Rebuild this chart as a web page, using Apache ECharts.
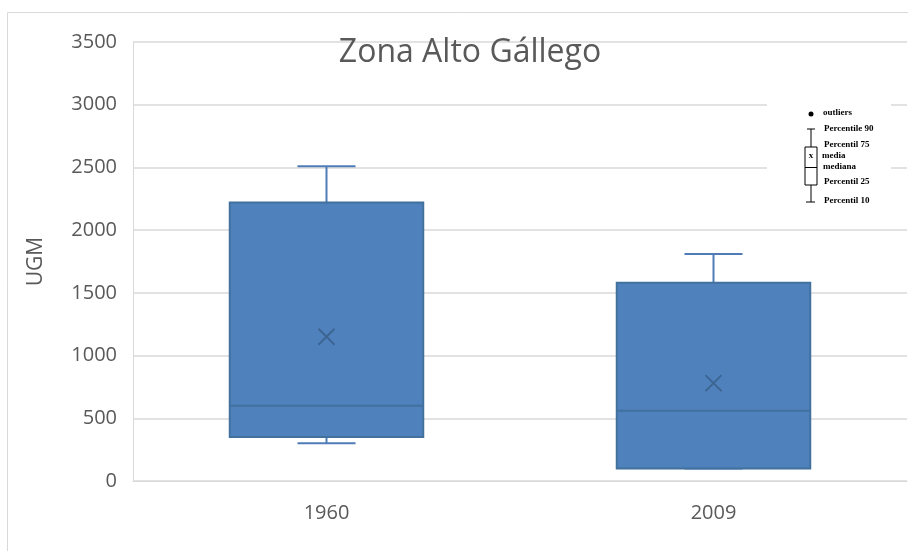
<!DOCTYPE html>
<html>
<head>
<meta charset="utf-8">
<script src="https://cdn.jsdelivr.net/npm/echarts@6/dist/echarts.min.js"></script>
<style>
  html, body { margin: 0; padding: 0; background: #fff; }
  #chart { width: 908px; height: 551px; }
</style>
</head>
<body>
<div id="chart"></div>
<script>
// datos
var years = ['1960', '2009'];
var p10 = [300, 100];
var p25 = [350, 100];
var mediana = [600, 560];
var p75 = [2220, 1580];
var p90 = [2510, 1810];
var media = [1150, 780];
var yTicks = [0, 500, 1000, 1500, 2000, 2500, 3000, 3500];

var boxColor = '#4f81bd';
var boxBorder = '#41719c';

var chart = echarts.init(document.getElementById('chart'));

var boxData = years.map(function (y, i) {
  return [i, p10[i], p25[i], mediana[i], p75[i], p90[i], media[i]];
});

function renderBox(params, api) {
  var i = api.value(0);
  var band = api.size([1, 0])[0];
  var half = band * 0.25;
  var cap = band * 0.075;
  var lo = api.coord([i, api.value(1)]);
  var q1 = api.coord([i, api.value(2)]);
  var md = api.coord([i, api.value(3)]);
  var q3 = api.coord([i, api.value(4)]);
  var hi = api.coord([i, api.value(5)]);
  var mn = api.coord([i, api.value(6)]);
  var x = q1[0];
  var whisk = { stroke: '#4f7cb8', lineWidth: 2 };
  return {
    type: 'group',
    children: [
      { type: 'line', shape: { x1: x, y1: q3[1], x2: x, y2: hi[1] }, style: whisk },
      { type: 'line', shape: { x1: x - cap, y1: hi[1], x2: x + cap, y2: hi[1] }, style: whisk },
      { type: 'line', shape: { x1: x, y1: q1[1], x2: x, y2: lo[1] }, style: whisk },
      { type: 'line', shape: { x1: x - cap, y1: lo[1], x2: x + cap, y2: lo[1] }, style: whisk },
      {
        type: 'rect',
        shape: { x: x - half, y: q3[1], width: half * 2, height: q1[1] - q3[1] },
        style: { fill: boxColor, stroke: boxBorder, lineWidth: 2 }
      },
      { type: 'line', shape: { x1: x - half, y1: md[1], x2: x + half, y2: md[1] }, style: { stroke: boxBorder, lineWidth: 2 } },
      { type: 'line', shape: { x1: x - 8, y1: mn[1] - 8, x2: x + 8, y2: mn[1] + 8 }, style: { stroke: '#3d6592', lineWidth: 2 } },
      { type: 'line', shape: { x1: x - 8, y1: mn[1] + 8, x2: x + 8, y2: mn[1] - 8 }, style: { stroke: '#3d6592', lineWidth: 2 } }
    ]
  };
}

// leyenda dibujada (imagen pegada en el original)
var lgFont = 'bold 9px "Liberation Serif", "DejaVu Serif", serif';
var legendGraphic = [
  { type: 'rect', shape: { x: 767, y: 93, width: 124, height: 135 }, style: { fill: '#fff' }, z: 10 },
  { type: 'circle', shape: { cx: 811, cy: 114, r: 2.5 }, style: { fill: '#000' }, z: 11 },
  { type: 'line', shape: { x1: 807, y1: 129, x2: 815, y2: 129 }, style: { stroke: '#000', lineWidth: 1 }, z: 11 },
  { type: 'line', shape: { x1: 811, y1: 129, x2: 811, y2: 147 }, style: { stroke: '#000', lineWidth: 1 }, z: 11 },
  { type: 'rect', shape: { x: 805, y: 147, width: 12, height: 38 }, style: { fill: '#fff', stroke: '#000', lineWidth: 1 }, z: 11 },
  { type: 'line', shape: { x1: 805, y1: 167.5, x2: 817, y2: 167.5 }, style: { stroke: '#000', lineWidth: 1 }, z: 11 },
  { type: 'line', shape: { x1: 811, y1: 185, x2: 811, y2: 202 }, style: { stroke: '#000', lineWidth: 1 }, z: 11 },
  { type: 'line', shape: { x1: 806, y1: 202, x2: 815, y2: 202 }, style: { stroke: '#000', lineWidth: 1 }, z: 11 },
  { type: 'text', x: 811, y: 156, style: { text: 'x', font: lgFont, fill: '#000', align: 'center', verticalAlign: 'middle' }, z: 11 },
  { type: 'text', x: 823, y: 113, style: { text: 'outliers', font: lgFont, fill: '#000', verticalAlign: 'middle' }, z: 11 },
  { type: 'text', x: 824, y: 129, style: { text: 'Percentile 90', font: lgFont, fill: '#000', verticalAlign: 'middle' }, z: 11 },
  { type: 'text', x: 824, y: 145, style: { text: 'Percentil 75', font: lgFont, fill: '#000', verticalAlign: 'middle' }, z: 11 },
  { type: 'text', x: 822, y: 156, style: { text: 'media', font: lgFont, fill: '#000', verticalAlign: 'middle' }, z: 11 },
  { type: 'text', x: 823, y: 167, style: { text: 'mediana', font: lgFont, fill: '#000', verticalAlign: 'middle' }, z: 11 },
  { type: 'text', x: 824, y: 182, style: { text: 'Percentil 25', font: lgFont, fill: '#000', verticalAlign: 'middle' }, z: 11 },
  { type: 'text', x: 824, y: 201, style: { text: 'Percentil 10', font: lgFont, fill: '#000', verticalAlign: 'middle' }, z: 11 },
  // marco del grafico
  { type: 'rect', shape: { x: 7.5, y: 12.5, width: 920, height: 560 }, style: { fill: 'none', stroke: '#d9d9d9', lineWidth: 1 }, z: 0 }
];

chart.setOption({
  animation: false,
  title: {
    text: 'Zona Alto Gállego',
    left: 465,
    top: 32,
    textAlign: 'center',
    textStyle: { fontFamily: 'Open Sans', fontSize: 32, fontWeight: 'normal', color: '#595959' }
  },
  grid: { left: 133, right: 1, top: 42, bottom: 70 },
  xAxis: {
    type: 'category',
    data: years,
    axisLine: { show: true, lineStyle: { color: '#d9d9d9' } },
    axisTick: { show: false },
    axisLabel: { color: '#595959', fontFamily: 'Open Sans', fontSize: 20, margin: 22 },
    splitLine: { show: false }
  },
  yAxis: {
    type: 'value',
    min: yTicks[0],
    max: yTicks[yTicks.length - 1],
    interval: 500,
    name: 'UGM',
    nameLocation: 'middle',
    nameGap: 86,
    nameTextStyle: { color: '#595959', fontFamily: 'Open Sans', fontSize: 21 },
    axisLine: { show: true, lineStyle: { color: '#d9d9d9' } },
    axisTick: { show: false },
    axisLabel: {
      color: '#595959', fontFamily: 'Open Sans', fontSize: 20, margin: 16,
      formatter: function (v) { return String(v); }
    },
    splitLine: { lineStyle: { color: '#d9d9d9', width: 1.5 } }
  },
  graphic: legendGraphic,
  series: [{
    type: 'custom',
    renderItem: renderBox,
    data: boxData,
    encode: { x: 0, y: [1, 2, 3, 4, 5, 6] },
    z: 5
  }]
});
</script>
</body>
</html>
